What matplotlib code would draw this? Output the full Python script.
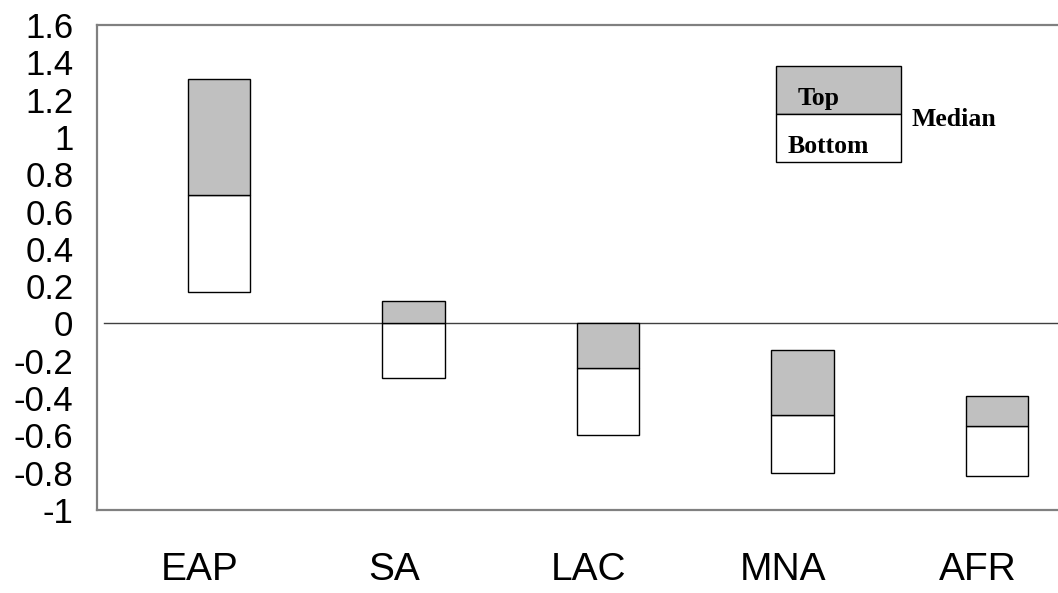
"""
plot.py

Regional range chart: bottom / median / top values per region,
drawn as stacked floating boxes (white = bottom..median, grey = median..top).

Output:
  out.png
"""

import matplotlib

matplotlib.use("Agg")

import matplotlib.pyplot as plt
import matplotlib.transforms as mtransforms
from matplotlib import font_manager
from matplotlib.font_manager import FontProperties
from matplotlib.patches import Rectangle
import numpy as np


REGIONS = ["EAP", "SA", "LAC", "MNA", "AFR"]

BOTTOM = [0.17, -0.29, -0.60, -0.80, -0.82]
MEDIAN = [0.69, 0.00, -0.24, -0.49, -0.55]
TOP = [1.31, 0.12, 0.00, -0.14, -0.39]

Y_TICKS = [-1.0, -0.8, -0.6, -0.4, -0.2, 0.0, 0.2, 0.4, 0.6, 0.8, 1.0, 1.2, 1.4, 1.6]
Y_TICK_LABELS = ["-1", "-0.8", "-0.6", "-0.4", "-0.2", "0", "0.2", "0.4",
                 "0.6", "0.8", "1", "1.2", "1.4", "1.6"]

GREY = "#c0c0c0"
FRAME = "#808080"


def pick_font(candidates):
    for name in candidates:
        try:
            font_manager.findfont(FontProperties(family=name), fallback_to_default=False)
            return name
        except ValueError:
            continue
    return "DejaVu Sans"


def main() -> None:
    sans = pick_font(["Liberation Sans", "Arial"])
    serif = pick_font(["Liberation Serif", "Times New Roman"])

    fig = plt.figure(figsize=(10.58, 5.93), dpi=100)
    ax = fig.add_axes([0.0917, 0.1400, 0.9083, 0.8179])

    x = np.arange(len(REGIONS))
    bottom = np.array(BOTTOM)
    median = np.array(MEDIAN)
    top = np.array(TOP)

    ax.bar(x, median - bottom, bottom=bottom, width=0.32,
           color="white", edgecolor="black", linewidth=1.0, zorder=3)
    ax.bar(x, top - median, bottom=median, width=0.32,
           color=GREY, edgecolor="black", linewidth=1.0, zorder=3)

    ax.set_xlim(-0.627, 4.314)
    ax.set_ylim(-1.0, 1.6)

    # zero line, starting just inside the left frame
    ax.plot([-0.59, 4.314], [0, 0], color="#404040", linewidth=1.0, zorder=2)

    ax.set_yticks(Y_TICKS)
    ax.set_yticklabels(Y_TICK_LABELS, family=sans, fontsize=25)
    ax.tick_params(axis="y", length=0, pad=17)

    ax.set_xticks(x)
    ax.set_xticklabels(REGIONS, family=sans, fontsize=28)
    ax.tick_params(axis="x", length=0, pad=30)
    shift = mtransforms.ScaledTranslation(-0.19, 0, fig.dpi_scale_trans)
    for lbl in ax.get_xticklabels():
        lbl.set_transform(lbl.get_transform() + shift)

    for side in ["left", "top", "bottom"]:
        ax.spines[side].set_color(FRAME)
        ax.spines[side].set_linewidth(1.6)
    ax.spines["right"].set_visible(False)

    # hand-drawn key in the upper right
    ax.add_patch(Rectangle((0.7066, 0.8165), 0.130, 0.099, transform=ax.transAxes,
                           facecolor=GREY, edgecolor="black", linewidth=1.0, zorder=4))
    ax.add_patch(Rectangle((0.7066, 0.7175), 0.130, 0.099, transform=ax.transAxes,
                           facecolor="white", edgecolor="black", linewidth=1.0, zorder=4))
    key_font = dict(family=serif, fontweight="bold", fontsize=18.5, transform=ax.transAxes, zorder=5)
    ax.text(0.751, 0.849, "Top", ha="center", va="center", **key_font)
    ax.text(0.761, 0.749, "Bottom", ha="center", va="center", **key_font)
    ax.text(0.848, 0.805, "Median", ha="left", va="center", **key_font)

    fig.savefig("out.png", dpi=100)
    plt.close(fig)


if __name__ == "__main__":
    main()
